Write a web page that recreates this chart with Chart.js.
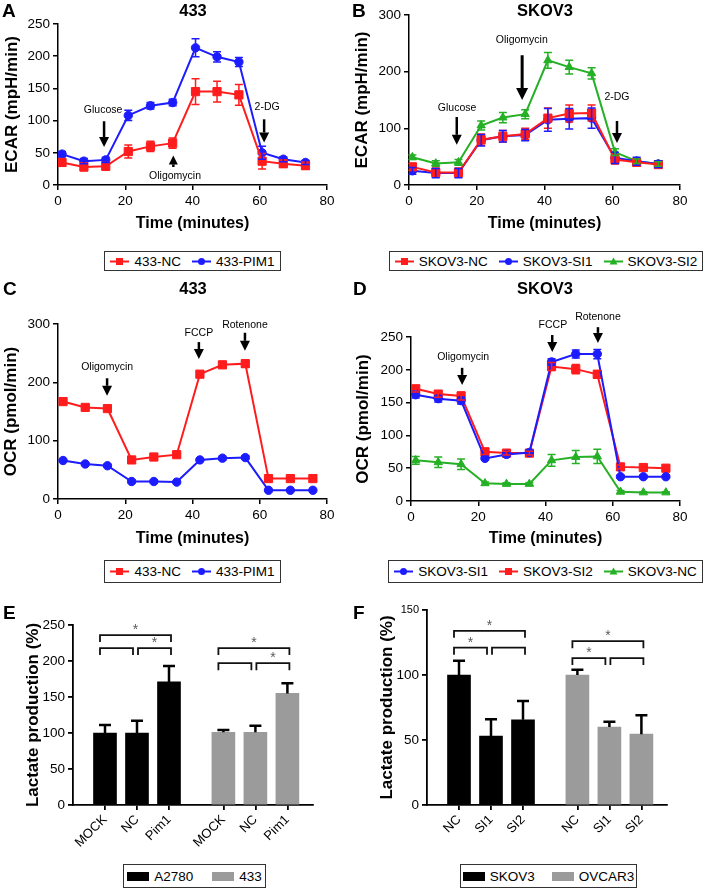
<!DOCTYPE html>
<html>
<head>
<meta charset="utf-8">
<script src="https://cdn.jsdelivr.net/npm/chart.js@4.4.1/dist/chart.umd.min.js"></script>
<style>
  body { margin: 0; background: #fff; width: 705px; height: 889px; position: relative; overflow: hidden;
         font-family: "Liberation Sans", Arial, Helvetica, sans-serif; color: #000; }
  canvas { position: absolute; }
  .letter { position: absolute; font-weight: bold; font-size: 19px; line-height: 1; transform: translateY(-50%); }
  .ttl { position: absolute; font-weight: bold; font-size: 16.5px; line-height: 1; transform: translate(-50%, -50%); }
  .legend { position: absolute; box-sizing: border-box; border: 1px solid #333; background: #fff;
            display: flex; align-items: center; justify-content: center; gap: 11px; font-size: 13.5px; }
  .legend .item { display: flex; align-items: center; gap: 5px; white-space: nowrap; }
  .legend svg { display: block; }
</style>
</head>
<body>

<canvas id="chartA" width="350" height="240" style="left:0;top:0"></canvas>
<canvas id="chartB" width="355" height="240" style="left:350px;top:0"></canvas>
<canvas id="chartC" width="350" height="275" style="left:0;top:280px"></canvas>
<canvas id="chartD" width="355" height="275" style="left:350px;top:280px"></canvas>
<canvas id="chartE" width="350" height="260" style="left:0;top:600px"></canvas>
<canvas id="chartF" width="355" height="260" style="left:350px;top:600px"></canvas>

<div class="letter" style="left:2px;top:10px">A</div>
<div class="letter" style="left:352px;top:10px">B</div>
<div class="letter" style="left:3px;top:288px">C</div>
<div class="letter" style="left:353px;top:288px">D</div>
<div class="letter" style="left:3px;top:612px">E</div>
<div class="letter" style="left:353px;top:612px">F</div>

<div class="ttl" style="left:193px;top:10px">433</div>
<div class="ttl" style="left:545px;top:10px">SKOV3</div>
<div class="ttl" style="left:193px;top:288px">433</div>
<div class="ttl" style="left:545px;top:288px">SKOV3</div>

<script>
// ---- data ----

// A: ECAR, 433
const timesA = [1.2, 7.7, 14.2, 20.9, 27.5, 34.1, 40.9, 47.3, 53.8, 60.7, 67.0, 73.6];
const ecar433NC = [35, 28, 29, 52, 60, 65, 145, 145, 140, 37, 33, 30];
const ecar433NCErr = [6, 6, 5, 10, 8, 8, 20, 16, 16, 12, 5, 5];
const ecar433PIM1 = [48, 37, 39, 108, 123, 128, 213, 199, 191, 50, 40, 35];
const ecar433PIM1Err = [4, 4, 4, 8, 5, 5, 14, 8, 7, 10, 4, 3];

// B: ECAR, SKOV3
const timesB = [1.0, 7.9, 14.6, 21.3, 27.7, 34.3, 41.0, 47.3, 53.9, 60.8, 67.2, 73.6];
const ecarSkovNC = [32, 22, 22, 80, 86, 90, 118, 126, 127, 45, 40, 36];
const ecarSkovNCErr = [6, 8, 8, 10, 10, 10, 18, 15, 14, 8, 6, 5];
const ecarSkovSI1 = [25, 21, 21, 79, 86, 88, 115, 117, 118, 48, 42, 37];
const ecarSkovSI1Err = [6, 8, 8, 10, 10, 10, 20, 18, 18, 10, 7, 6];
const ecarSkovSI2 = [49, 38, 40, 105, 119, 125, 220, 208, 197, 58, 42, 37];
const ecarSkovSI2Err = [4, 5, 5, 8, 9, 8, 14, 12, 10, 6, 4, 4];

// C: OCR, 433
const timesC = [1.5, 8.1, 14.7, 21.9, 28.5, 35.3, 42.2, 48.9, 55.7, 62.6, 69.1, 75.8];
const ocr433NC = [167, 157, 155, 67, 72, 76, 214, 230, 232, 35, 35, 35];
const ocr433NCErr = [3, 3, 4, 3, 3, 3, 4, 5, 6, 2, 2, 2];
const ocr433PIM1 = [66, 60, 57, 30, 30, 29, 67, 70, 71, 15, 15, 15];
const ocr433PIM1Err = [2, 2, 2, 2, 2, 2, 2, 3, 3, 1, 1, 1];

// D: OCR, SKOV3
const timesD = [1.4, 8.1, 14.9, 22.0, 28.4, 35.2, 41.8, 49.0, 55.4, 62.3, 69.1, 75.8];
const ocrSkovSI1 = [162, 156, 153, 65, 71, 74, 212, 224, 224, 37, 37, 37];
const ocrSkovSI1Err = [5, 5, 5, 3, 3, 3, 5, 6, 7, 2, 2, 2];
const ocrSkovSI2 = [171, 163, 160, 75, 73, 73, 205, 201, 193, 52, 51, 50];
const ocrSkovSI2Err = [5, 5, 6, 4, 3, 3, 6, 7, 6, 3, 2, 2];
const ocrSkovNC = [62, 59, 56, 27, 26, 26, 62, 67, 68, 14, 13, 13];
const ocrSkovNCErr = [6, 8, 8, 2, 2, 2, 9, 10, 11, 2, 1, 1];

// E: lactate, PIM1 overexpression
const categoriesE = ['MOCK', 'NC', 'Pim1'];
const lactateA2780 = [100, 100, 171];
const lactateA2780Err = [11, 17, 22];
const lactate433 = [101, 101, 155];
const lactate433Err = [3, 9, 14];

// F: lactate, PIM1 knockdown
const categoriesF = ['NC', 'SI1', 'SI2'];
const lactateSKOV3 = [100, 53, 65.5];
const lactateSKOV3Err = [11, 13, 14.5];
const lactateOVCAR3 = [100, 60, 54.5];
const lactateOVCAR3Err = [4, 4, 14.5];

// significance brackets: [group, from, to, level, star]
const bracketsE = [[0, 0, 2, 236, true], [0, 0, 1, 218, false], [0, 1, 2, 218, true],
                   [1, 0, 2, 218, true], [1, 0, 1, 197, false], [1, 1, 2, 197, true]];
const bracketsF = [[0, 0, 2, 134, true], [0, 0, 1, 121, true], [0, 1, 2, 121, false],
                   [1, 0, 2, 126, true], [1, 0, 1, 113, true], [1, 1, 2, 113, false]];

// ---- drawing ----
const RED = '#ff1c1c', BLUE = '#1c1cff', GREEN = '#25b025';
const FONT = '"Liberation Sans", Arial, Helvetica, sans-serif';
Chart.defaults.font.family = FONT;
Chart.defaults.color = '#000';

function errorBarPlugin(o) {
  return {
    id: 'errorBars',
    afterDatasetsDraw(chart) {
      const ctx = chart.ctx, ys = chart.scales.y;
      chart.data.datasets.forEach((ds, i) => {
        if (!ds.errors) return;
        const meta = chart.getDatasetMeta(i);
        ctx.save();
        ctx.strokeStyle = o.color || ds.borderColor;
        ctx.lineWidth = o.width;
        meta.data.forEach((el, j) => {
          const v = ds.data[j].y, e = ds.errors[j];
          const x = el.x;
          const top = ys.getPixelForValue(v + e);
          const bot = o.upOnly ? ys.getPixelForValue(v) : ys.getPixelForValue(v - e);
          ctx.beginPath();
          ctx.moveTo(x, top); ctx.lineTo(x, bot);
          ctx.moveTo(x - o.cap, top); ctx.lineTo(x + o.cap, top);
          if (!o.upOnly) { ctx.moveTo(x - o.cap, bot); ctx.lineTo(x + o.cap, bot); }
          ctx.stroke();
        });
        ctx.restore();
      });
    }
  };
}

function arrowPlugin(items) {
  return {
    id: 'arrows',
    afterDraw(chart) {
      const ctx = chart.ctx, xs = chart.scales.x, ys = chart.scales.y;
      ctx.save();
      ctx.fillStyle = '#000'; ctx.strokeStyle = '#000';
      items.forEach(a => {
        const x = xs.getPixelForValue(a.t);
        const y1 = ys.getPixelForValue(a.from), y2 = ys.getPixelForValue(a.to);
        const dir = Math.sign(y2 - y1);
        const hl = a.hl || 10, hw = a.hw || 5;
        ctx.lineWidth = a.lw || 2.5;
        ctx.beginPath();
        ctx.moveTo(x, y1); ctx.lineTo(x, y2 - dir * hl);
        ctx.stroke();
        ctx.beginPath();
        ctx.moveTo(x - hw, y2 - dir * hl); ctx.lineTo(x + hw, y2 - dir * hl); ctx.lineTo(x, y2);
        ctx.closePath(); ctx.fill();
        ctx.font = '10.5px ' + FONT;
        ctx.textAlign = 'center'; ctx.textBaseline = 'middle';
        ctx.fillText(a.text, xs.getPixelForValue(a.tx), ys.getPixelForValue(a.ty));
      });
      ctx.restore();
    }
  };
}

function bracketPlugin(list) {
  return {
    id: 'brackets',
    afterDatasetsDraw(chart) {
      const ctx = chart.ctx, ys = chart.scales.y;
      ctx.save();
      list.forEach(([g, from, to, level, star]) => {
        const pts = chart.getDatasetMeta(g).data;
        const x1 = pts[from].x + (from === 1 ? 1 : -5);
        const x2 = pts[to].x + (to === 1 ? -4 : 2);
        const y = ys.getPixelForValue(level);
        ctx.strokeStyle = '#111'; ctx.lineWidth = 1.8;
        ctx.beginPath();
        ctx.moveTo(x1, y + 7); ctx.lineTo(x1, y); ctx.lineTo(x2, y); ctx.lineTo(x2, y + 7);
        ctx.stroke();
        if (star) {
          ctx.fillStyle = '#5a5a5a'; ctx.font = '14px ' + FONT;
          ctx.textAlign = 'center'; ctx.textBaseline = 'alphabetic';
          ctx.fillText('*', (x1 + x2) / 2, y - 1);
        }
      });
      ctx.restore();
    }
  };
}

function axisStyle() {
  return {
    grid: { drawOnChartArea: false, drawTicks: true, tickLength: 5, color: '#000', lineWidth: 1.5 },
    border: { display: true, color: '#000', width: 1.5 },
  };
}

function lineChart(id, box, yMax, yStep, yTitle, times, series, arrows) {
  new Chart(document.getElementById(id), {
    type: 'line',
    data: {
      datasets: series.map(s => ({
        label: s.label,
        data: times.map((t, i) => ({ x: t, y: s.values[i] })),
        errors: s.errors,
        borderColor: s.color, backgroundColor: s.color,
        pointBorderColor: s.color, pointBackgroundColor: s.color,
        borderWidth: 2, tension: 0,
        pointStyle: s.marker, pointRadius: s.marker === 'rect' ? 5.8 : (s.marker === 'triangle' ? 4.8 : 4.2),
        pointBorderWidth: 1
      }))
    },
    options: {
      responsive: false, animation: false, devicePixelRatio: 1,
      layout: { padding: { left: 0, top: box.top, right: box.right, bottom: 0 } },
      plugins: { legend: { display: false }, tooltip: { enabled: false } },
      scales: {
        x: {
          type: 'linear', min: 0, max: 80,
          ticks: { stepSize: 20, font: { size: 13.5 }, padding: 3, color: '#000' },
          ...axisStyle(),
          title: { display: true, text: 'Time (minutes)', font: { size: 16, weight: 'bold' }, padding: { top: 0, bottom: 7 } },
          afterFit(s) { s.height = box.xh; }
        },
        y: {
          min: 0, max: yMax,
          ticks: { stepSize: yStep, font: { size: 13.5 }, padding: 3, color: '#000' },
          ...axisStyle(),
          title: { display: true, text: yTitle, font: { size: 17, weight: 'bold' }, padding: { top: box.tp, bottom: 0 } },
          afterFit(s) { s.width = box.yw; }
        }
      }
    },
    plugins: [errorBarPlugin({ width: 1.5, cap: 4 }), arrowPlugin(arrows)]
  });
}

function barChart(id, box, yMax, categories, groups, brackets) {
  const stride = categories.length + 0.7;
  const xPos = (g, i) => 1 + i + g * stride;
  const tickPos = [], tickLbl = [];
  groups.forEach((grp, g) => categories.forEach((c, i) => { tickPos.push(xPos(g, i)); tickLbl.push(c); }));
  new Chart(document.getElementById(id), {
    type: 'bar',
    data: {
      datasets: groups.map((grp, g) => ({
        label: grp.label,
        data: grp.values.map((v, i) => ({ x: xPos(g, i), y: v })),
        errors: grp.errors,
        backgroundColor: grp.color, borderWidth: 0,
        barThickness: 23, grouped: false
      }))
    },
    options: {
      responsive: false, animation: false, devicePixelRatio: 1,
      layout: { padding: { left: 0, top: box.top, right: box.right, bottom: 0 } },
      plugins: { legend: { display: false }, tooltip: { enabled: false } },
      scales: {
        x: {
          type: 'linear', min: 0, max: 2 * stride + 0.1, offset: false,
          afterBuildTicks(s) { s.ticks = tickPos.map(v => ({ value: v })); },
          ticks: { autoSkip: false, minRotation: 45, maxRotation: 45, font: { size: 13 }, padding: 2, color: '#000',
                   callback: (v, i) => tickLbl[i] },
          grid: { drawOnChartArea: false, drawTicks: true, tickLength: 5, color: '#000', lineWidth: 1.8, offset: false },
          border: { display: true, color: '#000', width: 1.8 },
          afterFit(s) { s.height = box.xh; }
        },
        y: {
          min: 0, max: yMax,
          ticks: { stepSize: 50, color: '#000', padding: 3,
                   font: c => ({ size: (box.smallTop && c.tick && c.tick.value === yMax) ? 11 : 13.5 }) },
          grid: { drawOnChartArea: false, drawTicks: true, tickLength: 5, color: '#000', lineWidth: 1.8 },
          border: { display: true, color: '#000', width: 1.8 },
          title: { display: true, text: 'Lactate production (%)', font: { size: 17, weight: 'bold' }, padding: { top: box.tp, bottom: 0 } },
          afterFit(s) { s.width = box.yw; }
        }
      }
    },
    plugins: [errorBarPlugin({ width: 2.5, cap: 6, upOnly: true, color: '#000' }), bracketPlugin(brackets)]
  });
}

function markerSvg(m, c) {
  let mk;
  if (m === 'rect') mk = `<rect x="6" y="2" width="7" height="7" fill="${c}"/>`;
  else if (m === 'circle') mk = `<circle cx="9.5" cy="5.5" r="3.5" fill="${c}"/>`;
  else mk = `<polygon points="9.5,1.5 13.5,8.5 5.5,8.5" fill="${c}"/>`;
  return `<svg width="19" height="11"><line x1="0" y1="5.5" x2="19" y2="5.5" stroke="${c}" stroke-width="2"/>${mk}</svg>`;
}

function legend(box, items, kind) {
  const div = document.createElement('div');
  div.className = 'legend';
  Object.assign(div.style, { left: box.x + 'px', top: box.y + 'px', width: box.w + 'px', height: box.h + 'px' });
  if (box.gap) div.style.gap = box.gap + 'px';
  items.forEach(s => {
    const it = document.createElement('span');
    it.className = 'item';
    const sample = kind === 'bar'
      ? `<svg width="22" height="9"><rect x="0" y="0" width="22" height="9" fill="${s.color}"/></svg>`
      : markerSvg(s.marker, s.color);
    it.innerHTML = sample + '<span>' + s.label + '</span>';
    div.appendChild(it);
  });
  document.body.appendChild(div);
}

// A
const seriesA = [
  { label: '433-NC', values: ecar433NC, errors: ecar433NCErr, color: RED, marker: 'rect' },
  { label: '433-PIM1', values: ecar433PIM1, errors: ecar433PIM1Err, color: BLUE, marker: 'circle' }
];
lineChart('chartA', { top: 24, right: 23, xh: 55, yw: 58, tp: 2 }, 250, 50, 'ECAR (mpH/min)', timesA, seriesA, [
  { t: 13.7, from: 99, to: 59, text: 'Glucose', tx: 13.4, ty: 116 },
  { t: 61.3, from: 102, to: 66, text: '2-DG', tx: 62.2, ty: 121 },
  { t: 34.3, from: 28, to: 46, text: 'Oligomycin', tx: 34.8, ty: 14, hl: 9, hw: 4.5 }
]);
legend({ x: 104, y: 251, w: 177, h: 20 }, seriesA, 'line');

// B
const seriesB = [
  { label: 'SKOV3-NC', values: ecarSkovNC, errors: ecarSkovNCErr, color: RED, marker: 'rect' },
  { label: 'SKOV3-SI1', values: ecarSkovSI1, errors: ecarSkovSI1Err, color: BLUE, marker: 'circle' },
  { label: 'SKOV3-SI2', values: ecarSkovSI2, errors: ecarSkovSI2Err, color: GREEN, marker: 'triangle' }
];
lineChart('chartB', { top: 15, right: 25, xh: 55, yw: 59, tp: 2 }, 300, 100, 'ECAR (mpH/min)', timesB, seriesB, [
  { t: 14.1, from: 120, to: 71, text: 'Glucose', tx: 14.2, ty: 136 },
  { t: 33.4, from: 229, to: 150, text: 'Oligomycin', tx: 33.3, ty: 256, lw: 3, hl: 12, hw: 6 },
  { t: 61.4, from: 113, to: 74, text: '2-DG', tx: 61.4, ty: 155 }
]);
legend({ x: 389, y: 251, w: 314, h: 20 }, seriesB, 'line');

// C
const seriesC = [
  { label: '433-NC', values: ocr433NC, errors: ocr433NCErr, color: RED, marker: 'rect' },
  { label: '433-PIM1', values: ocr433PIM1, errors: ocr433PIM1Err, color: BLUE, marker: 'circle' }
];
lineChart('chartC', { top: 44, right: 23, xh: 56, yw: 58, tp: 1 }, 300, 100, 'OCR (pmol/min)', timesC, seriesC, [
  { t: 14.6, from: 207, to: 177, text: 'Oligomycin', tx: 14.6, ty: 226 },
  { t: 41.9, from: 269, to: 240, text: 'FCCP', tx: 41.9, ty: 285 },
  { t: 55.6, from: 285, to: 254, text: 'Rotenone', tx: 55.6, ty: 298 }
]);
legend({ x: 104, y: 560, w: 177, h: 23 }, seriesC, 'line');

// D
const seriesD = [
  { label: 'SKOV3-SI1', values: ocrSkovSI1, errors: ocrSkovSI1Err, color: BLUE, marker: 'circle' },
  { label: 'SKOV3-SI2', values: ocrSkovSI2, errors: ocrSkovSI2Err, color: RED, marker: 'rect' },
  { label: 'SKOV3-NC', values: ocrSkovNC, errors: ocrSkovNCErr, color: GREEN, marker: 'triangle' }
];
lineChart('chartD', { top: 57, right: 25, xh: 54, yw: 61, tp: 3 }, 250, 50, 'OCR (pmol/min)', timesD, seriesD, [
  { t: 15.2, from: 203, to: 177, text: 'Oligomycin', tx: 15.5, ty: 220 },
  { t: 42.0, from: 253, to: 227, text: 'FCCP', tx: 42.2, ty: 268 },
  { t: 55.6, from: 265, to: 241, text: 'Rotenone', tx: 55.6, ty: 280 }
]);
legend({ x: 388, y: 560, w: 315, h: 23 }, seriesD, 'line');

// E
const groupsE = [
  { label: 'A2780', values: lactateA2780, errors: lactateA2780Err, color: '#000000' },
  { label: '433', values: lactate433, errors: lactate433Err, color: '#9b9b9b' }
];
barChart('chartE', { top: 25, right: 37, xh: 55, yw: 73, tp: 23 }, 250, categoriesE, groupsE, bracketsE);
legend({ x: 123, y: 864, w: 143, h: 24, gap: 19 }, groupsE, 'bar');

// F
const groupsF = [
  { label: 'SKOV3', values: lactateSKOV3, errors: lactateSKOV3Err, color: '#000000' },
  { label: 'OVCAR3', values: lactateOVCAR3, errors: lactateOVCAR3Err, color: '#9b9b9b' }
];
barChart('chartF', { top: 10, right: 38, xh: 55, yw: 77, tp: 27, smallTop: true }, 150, categoriesF, groupsF, bracketsF);
legend({ x: 460, y: 864, w: 177, h: 24, gap: 17 }, groupsF, 'bar');
</script>
</body>
</html>
